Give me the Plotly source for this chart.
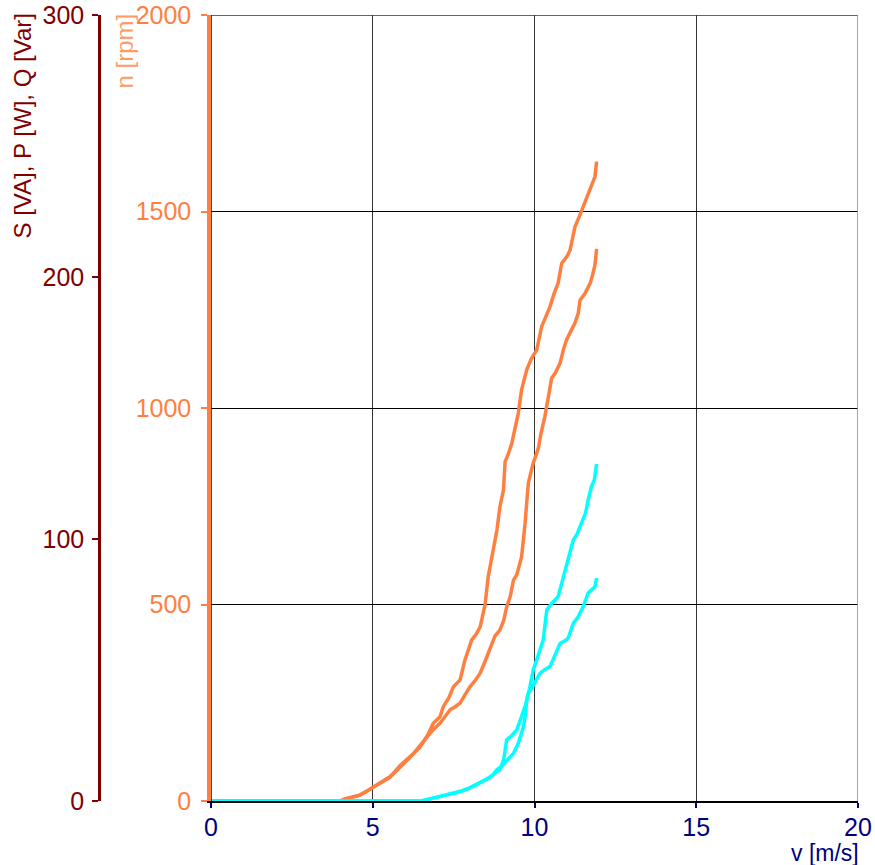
import plotly.graph_objects as go

# Orange curves: rotational speed n [rpm] vs wind speed v [m/s]
v_n1 = [0, 4.0, 4.1, 4.35, 4.6, 4.8, 5.02, 5.25, 5.53, 5.8, 6.05, 6.3, 6.46, 6.7, 6.87, 7.08, 7.18, 7.35, 7.49, 7.7, 7.85, 8.06, 8.2, 8.32, 8.47, 8.57, 8.65, 8.73, 8.84, 8.93, 9.04, 9.09, 9.2, 9.3, 9.4, 9.5, 9.6, 9.76, 9.9, 10.07, 10.22, 10.35, 10.48, 10.6, 10.73, 10.84, 11.0, 11.1, 11.25, 11.4, 11.51, 11.62, 11.72, 11.8, 11.87, 11.92]
n1 = [0, 0, 4, 9, 15, 24, 36, 48, 62, 82, 104, 126, 137, 168, 198, 214, 240, 262, 290, 308, 359, 410, 425, 443, 499, 571, 605, 639, 690, 748, 791, 863, 885, 911, 952, 987, 1046, 1097, 1125, 1148, 1207, 1230, 1258, 1290, 1318, 1368, 1385, 1402, 1461, 1490, 1512, 1535, 1555, 1575, 1589, 1627]

v_n2 = [0, 4.0, 4.1, 4.35, 4.6, 4.8, 5.02, 5.25, 5.53, 5.84, 6.05, 6.25, 6.55, 6.86, 7.08, 7.25, 7.39, 7.55, 7.7, 7.85, 8.0, 8.15, 8.32, 8.47, 8.62, 8.78, 8.93, 9.05, 9.14, 9.25, 9.35, 9.45, 9.6, 9.66, 9.71, 9.76, 9.81, 9.9, 9.96, 10.05, 10.12, 10.2, 10.32, 10.43, 10.53, 10.65, 10.79, 10.9, 10.99, 11.12, 11.25, 11.35, 11.41, 11.55, 11.72, 11.8, 11.87, 11.92]
n2 = [0, 0, 4, 9, 15, 24, 35, 46, 60, 90, 104, 120, 150, 181, 198, 218, 232, 240, 249, 270, 290, 305, 325, 355, 384, 420, 435, 460, 494, 520, 562, 575, 621, 660, 707, 760, 809, 840, 860, 880, 898, 935, 978, 1029, 1076, 1090, 1114, 1150, 1173, 1195, 1216, 1240, 1275, 1290, 1317, 1340, 1364, 1405]

# Cyan curves: S [VA], P [W], Q [Var] vs wind speed v [m/s]
v_p1 = [0, 6.5, 6.86, 7.2, 7.5, 7.7, 8.0, 8.32, 8.55, 8.7, 8.83, 9.0, 9.2, 9.35, 9.5, 9.66, 9.72, 9.76, 9.85, 9.96, 10.1, 10.27, 10.38, 10.53, 10.73, 10.89, 11.0, 11.1, 11.2, 11.3, 11.46, 11.58, 11.66, 11.76, 11.85, 11.92]
p1 = [0, 0, 1.1, 2.0, 3.0, 3.6, 5.0, 6.9, 8.5, 9.8, 11.8, 13.5, 16.0, 18.2, 22.0, 28.4, 33.0, 38.5, 43.0, 50.0, 55.0, 61.5, 72.9, 75.4, 78.0, 85.6, 90.0, 95.8, 99.6, 101.5, 106.0, 110.0, 114.9, 120.0, 122.5, 128.6]

v_p2 = [0, 6.5, 6.86, 7.2, 7.5, 7.7, 8.0, 8.32, 8.55, 8.7, 8.83, 8.93, 9.05, 9.14, 9.3, 9.45, 9.6, 9.72, 9.81, 9.96, 10.17, 10.3, 10.48, 10.65, 10.79, 10.99, 11.05, 11.2, 11.35, 11.5, 11.61, 11.66, 11.8, 11.87, 11.92]
p2 = [0, 0, 1.1, 2.0, 3.0, 3.6, 5.0, 6.9, 8.5, 9.8, 11.2, 11.8, 16.0, 23.3, 25.0, 27.1, 32.0, 36.5, 41.1, 44.0, 48.7, 50.0, 51.3, 56.0, 60.1, 61.5, 62.5, 67.8, 70.3, 74.0, 78.0, 79.4, 81.0, 81.8, 85.1]

x_ticks = [0, 5, 10, 15, 20]
n_ticks = [0, 500, 1000, 1500, 2000]
p_ticks = [0, 100, 200, 300]

ORANGE = "#FF7F40"
CYAN = "#00FFFF"
DARKRED = "#800000"
NAVY = "#000080"
FONT = "Liberation Sans, Arial, sans-serif"
FS = 25
FT = 24

W, H = 875, 865


def px(x):
    return x / W


def py(y):
    return (H - y) / H


x0, x1 = 211, 858
y_top, y_bot = 15, 801

fig = go.Figure()
fig.add_trace(go.Scatter(x=v_n1, y=n1, mode="lines", line=dict(color=ORANGE, width=3.5), yaxis="y", showlegend=False))
fig.add_trace(go.Scatter(x=v_n2, y=n2, mode="lines", line=dict(color=ORANGE, width=3.5), yaxis="y", showlegend=False))
fig.add_trace(go.Scatter(x=v_p1, y=p1, mode="lines", line=dict(color=CYAN, width=3.5), yaxis="y2", showlegend=False))
fig.add_trace(go.Scatter(x=v_p2, y=p2, mode="lines", line=dict(color=CYAN, width=3.5), yaxis="y2", showlegend=False))

fig.update_layout(
    width=W, height=H,
    margin=dict(l=0, r=0, t=0, b=0, autoexpand=False),
    paper_bgcolor="white", plot_bgcolor="white",
    font=dict(family=FONT, size=FS),
    xaxis=dict(
        domain=[px(x0), px(x1)], range=[0, 20], tickvals=x_ticks, automargin=False,
        showgrid=True, gridcolor="#333333", gridwidth=1,
        showline=True, linecolor="black", linewidth=2,
        zeroline=False, ticklabeloverflow="allow",
        ticks="outside", ticklen=5, tickcolor=NAVY, tickwidth=2, ticklabelstandoff=-2,
        tickfont=dict(color=NAVY, size=FS), layer="below traces",
    ),
    yaxis=dict(
        domain=[py(y_bot), py(y_top)], range=[0, 2000], tickvals=n_ticks, automargin=False,
        showgrid=True, gridcolor="black", gridwidth=1, zeroline=False,
        showline=True, linecolor=ORANGE, linewidth=3.5, ticklabeloverflow="allow",
        ticks="outside", ticklen=6, tickcolor=ORANGE, tickwidth=2, ticklabelstandoff=5,
        tickfont=dict(color=ORANGE, size=FS), layer="below traces",
    ),
    yaxis2=dict(
        range=[0, 300], tickvals=p_ticks, overlaying="y", anchor="free", automargin=False,
        position=px(99), side="left", showgrid=False, zeroline=False,
        showline=True, linecolor=DARKRED, linewidth=2.5, ticklabeloverflow="allow",
        ticks="outside", ticklen=6, tickcolor=DARKRED, tickwidth=2, ticklabelstandoff=3,
        tickfont=dict(color=DARKRED, size=FS),
    ),
    shapes=[
        dict(type="line", xref="x", yref="y", x0=0, x1=20, y0=2000, y1=2000, line=dict(color="#333333", width=1.5)),
        dict(type="line", xref="x", yref="y", x0=20, x1=20, y0=0, y1=2000, line=dict(color="#888888", width=1.5)),
        dict(type="line", xref="x", yref="y", x0=0, x1=0, y0=0, y1=2000, line=dict(color="#2a1000", width=1.5)),
    ],
    annotations=[
        dict(text="S [VA], P [W], Q [Var]", x=px(22), y=py(12), xref="paper", yref="paper",
             xanchor="center", yanchor="top", textangle=-90, showarrow=False,
             font=dict(color=DARKRED, size=FT, family=FONT)),
        dict(text="n [rpm]", x=px(124), y=py(12), xref="paper", yref="paper",
             xanchor="center", yanchor="top", textangle=-90, showarrow=False,
             font=dict(color="#FF9A66", size=FT, family=FONT)),
        dict(text="v [m/s]", x=px(860), y=py(867), xref="paper", yref="paper",
             xanchor="right", yanchor="bottom", showarrow=False, borderpad=0,
             font=dict(color=NAVY, size=23, family=FONT)),
    ],
)

fig.write_html(
    "out.html",
    config={"displayModeBar": False},
    post_script="document.body.style.margin='0';document.body.style.overflow='hidden';",
)
